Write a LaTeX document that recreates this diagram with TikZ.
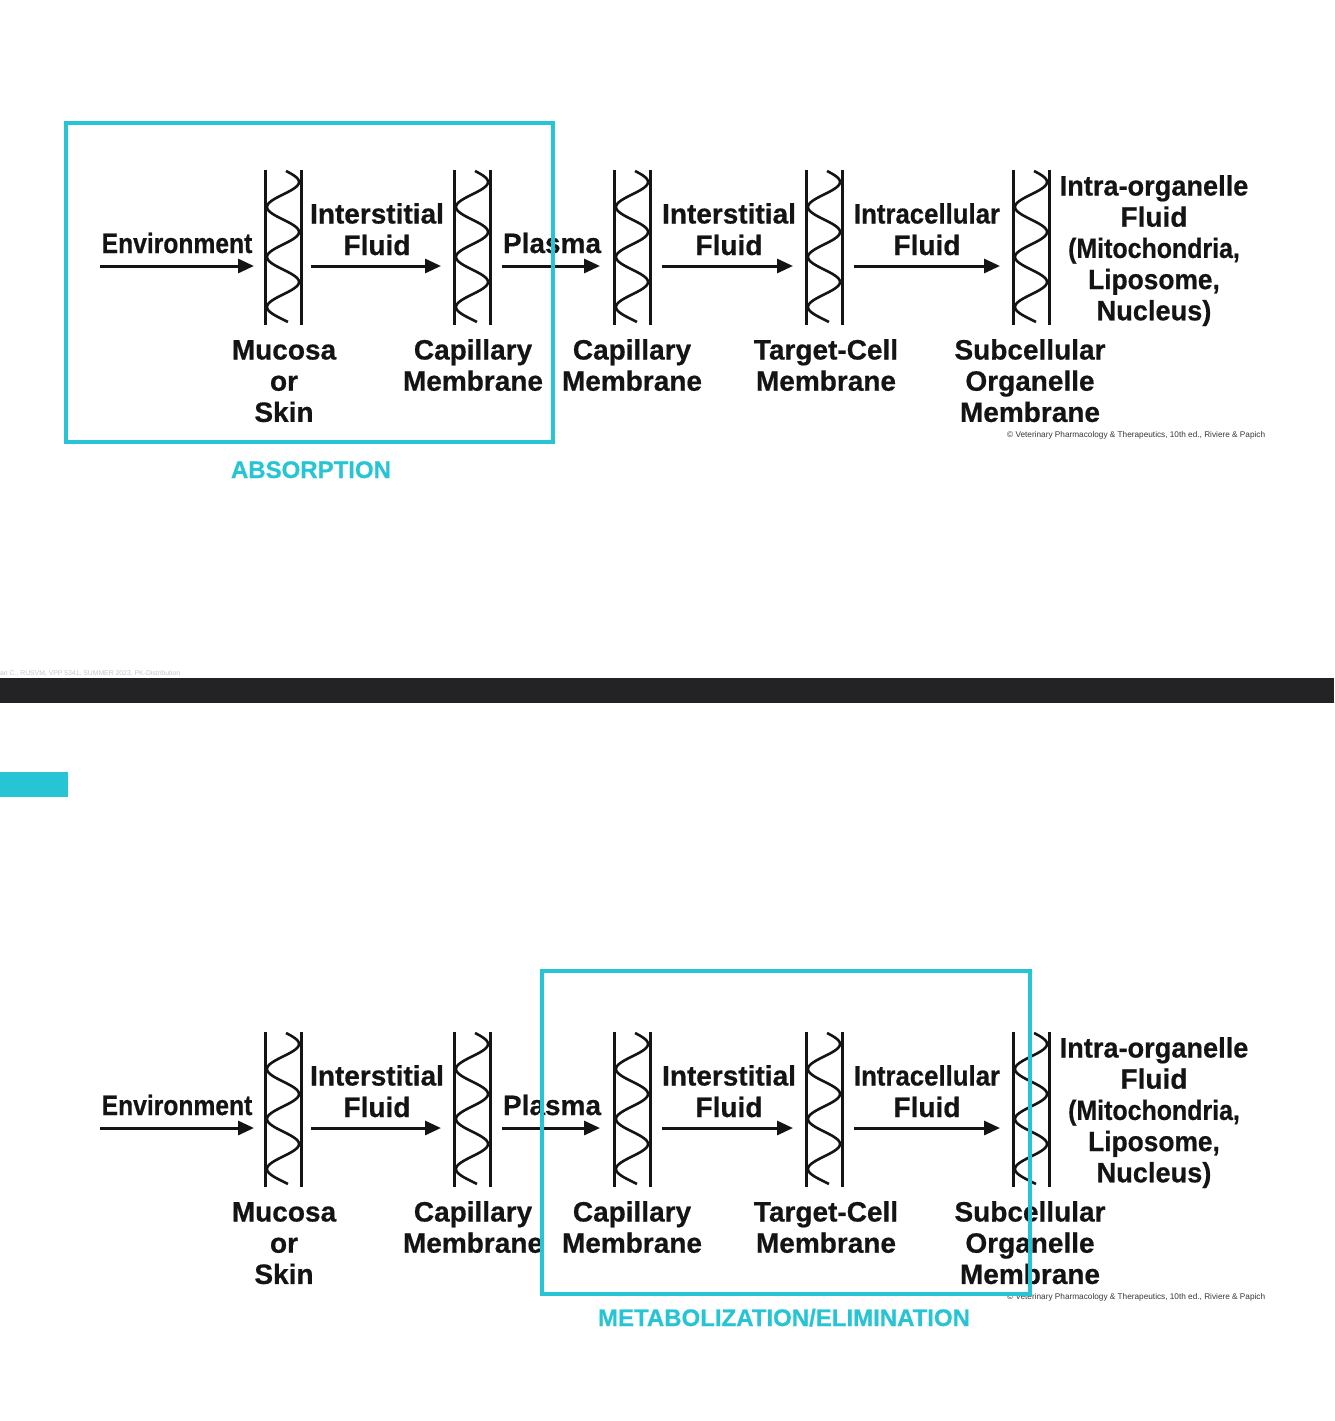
\documentclass[tikz,border=0pt]{standalone}
\usepackage{fontspec}
\setmainfont{Liberation Sans}[BoldFeatures={FakeBold=0.6}]
\usepackage{graphicx}
\usetikzlibrary{arrows.meta}
\definecolor{cy}{RGB}{38,196,212}
\definecolor{ink}{RGB}{20,20,20}
\definecolor{barcol}{RGB}{35,35,37}
\newcommand\lbl[1]{\begin{tabular}[t]{@{}c@{}}#1\end{tabular}}
\newcommand\sq[2]{\scalebox{#1}[1]{#2}}
\newcommand\membrane[2]{%
  \draw[mline] ({#1-18},#2) -- ({#1-18},{#2+155});
  \draw[mline] ({#1+18},#2) -- ({#1+18},{#2+155});
  \draw[wave] plot[domain=1:152, samples=120, smooth] ({#1 + 16*cos(7.2*(\x-12))}, {#2+\x});
}
\begin{document}
\begin{tikzpicture}[x=1pt,y=-1pt,
  txt/.style={inner sep=0, anchor=base, text=ink, font=\fontsize{28}{31.5}\selectfont\bfseries},
  txtlow/.style={inner sep=0, anchor=base, text=ink, font=\fontsize{28}{31.2}\selectfont\bfseries},
  txtright/.style={inner sep=0, anchor=base, text=ink, font=\fontsize{28}{31.2}\selectfont\bfseries},
  flow/.style={line width=3pt, draw=ink, -{Triangle[length=16pt,width=14pt]}},
  mline/.style={line width=3pt, draw=ink},
  wave/.style={line width=2.6pt, draw=ink},
  hl/.style={draw=cy, line width=4.5pt},
  tag/.style={inner sep=0, anchor=base, text=cy, font=\fontsize{24}{28}\selectfont\bfseries},
  credit/.style={inner sep=0, anchor=base west, text=ink!85}
]
\fill[white] (0,0) rectangle (1334,1421);
\useasboundingbox (0,0) rectangle (1334,1421);

\foreach \dy in {0,862}{
  \pgfmathsetmacro\yt{170+\dy}
  \pgfmathsetmacro\ya{266+\dy}
  \pgfmathsetmacro\yb{253+\dy}
  \pgfmathsetmacro\yc{223.5+\dy}
  \pgfmathsetmacro\yd{195.5+\dy}
  \pgfmathsetmacro\ye{359.5+\dy}
  \pgfmathsetmacro\yf{437+\dy}
  % membranes
  \membrane{283}{\yt}
  \membrane{472}{\yt}
  \membrane{632}{\yt}
  \membrane{824}{\yt}
  \membrane{1031}{\yt}
  % arrows
  \coordinate (a1s-\dy) at (100,\ya);
  \coordinate (a1e-\dy) at (254,\ya);
  \coordinate (a2s-\dy) at (311,\ya);
  \coordinate (a2e-\dy) at (441,\ya);
  \coordinate (a3s-\dy) at (502,\ya);
  \coordinate (a3e-\dy) at (600,\ya);
  \coordinate (a4s-\dy) at (662,\ya);
  \coordinate (a4e-\dy) at (793,\ya);
  \coordinate (a5s-\dy) at (854,\ya);
  \coordinate (a5e-\dy) at (1000,\ya);
  \draw[flow] (a1s-\dy) -- (a1e-\dy);
  \draw[flow] (a2s-\dy) -- (a2e-\dy);
  \draw[flow] (a3s-\dy) -- (a3e-\dy);
  \draw[flow] (a4s-\dy) -- (a4e-\dy);
  \draw[flow] (a5s-\dy) -- (a5e-\dy);
  % labels above
  \node[txt] (env-\dy) at (177,\yb) {\sq{0.88}{Environment}};
  \node[txt] (isf-\dy) at (377,\yc) {\lbl{Interstitial\\Fluid}};
  \node[txt] (pla-\dy) at (552,\yb) {Plasma};
  \node[txt] (isf2-\dy) at (729,\yc) {\lbl{Interstitial\\Fluid}};
  \node[txt] (icf-\dy) at (927,\yc) {\lbl{\sq{0.92}{Intracellular}\\Fluid}};
  \node[txtright] (iof-\dy) at (1154,\yd) {\lbl{\sq{0.97}{Intra-organelle}\\Fluid\\\sq{0.89}{(Mitochondria,}\\\sq{0.94}{Liposome,}\\\sq{0.97}{Nucleus)}}};
  % labels below
  \node[txtlow] (muc-\dy) at (284,\ye) {\lbl{Mucosa\\or\\Skin}};
  \node[txtlow] (cap1-\dy) at (473,\ye) {\lbl{Capillary\\Membrane}};
  \node[txtlow] (cap2-\dy) at (632,\ye) {\lbl{Capillary\\Membrane}};
  \node[txtlow] (tcm-\dy) at (826,\ye) {\lbl{Target-Cell\\Membrane}};
  \node[txtlow] (som-\dy) at (1030,\ye) {\lbl{Subcellular\\Organelle\\Membrane}};
  % credit
  \node[credit] (cr-\dy) at (1007,\yf) {\resizebox{258pt}{!}{© Veterinary Pharmacology \& Therapeutics, 10th ed., Riviere \& Papich}};
}

% highlight boxes
\draw[hl] (66,123) rectangle (553,442);
\node[tag] (absorb) at (311,478) {ABSORPTION};
\draw[hl] (542,971) rectangle (1030,1294);
\node[tag] (metab) at (784,1326) {METABOLIZATION/ELIMINATION};

% slide separator
\node[inner sep=0, anchor=base west, text=black!22] (foot) at (0,675) {\resizebox{180pt}{!}{an C., RUSVM, VPP 5341, SUMMER 2023, PK-Distribution}};
\fill[barcol] (0,678) rectangle (1334,703);
\fill[cy] (0,772) rectangle (68,797);
\end{tikzpicture}
\end{document}
